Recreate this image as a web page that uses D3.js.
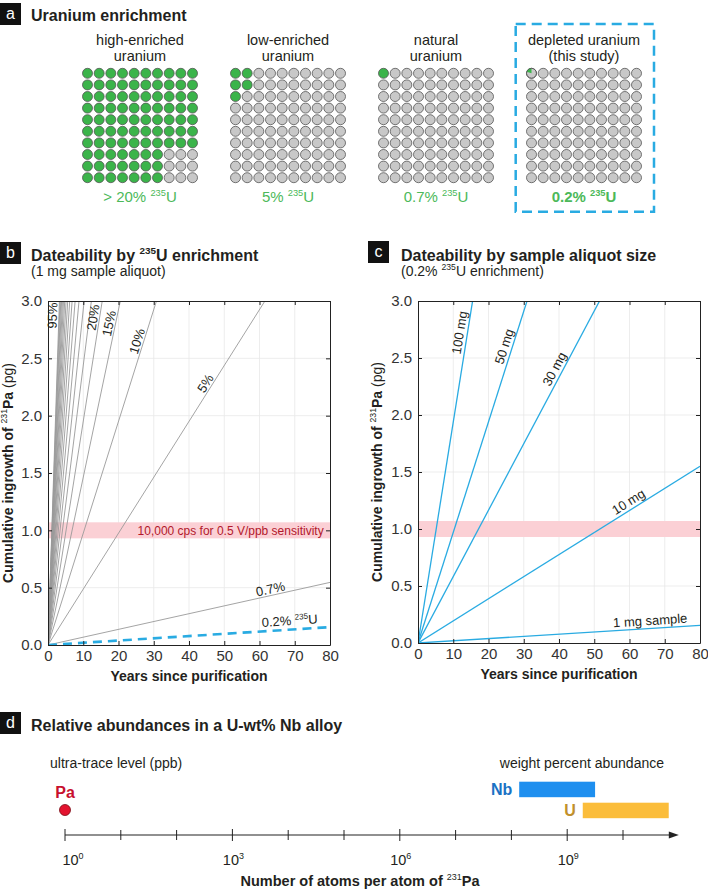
<!DOCTYPE html>
<html><head><meta charset="utf-8">
<script src="https://cdn.jsdelivr.net/npm/d3@7"></script>
<style>
body{margin:0;background:#fff}
svg{display:block;font-family:"Liberation Sans",Arial,Helvetica,sans-serif}
</style>
</head><body><svg id="fig" width="708" height="891"></svg>
<script>
// ---------- DATA ----------
// panel a
const enrichNames = [["high-enriched","uranium"],["low-enriched","uranium"],["natural","uranium"],["depleted uranium","(this study)"]];
const enrichValues = ["> 20%","5%","0.7%","0.2%"];
const greenRows = [[10,10,10,10,10,10,10,7,7,7],[2,2,1],[1],[0.2]];
// panel b (pg of 231Pa after 80 years, 1 mg aliquot)
const bPercent = [95,90,85,80,75,70,65,60,55,50,45,40,35,30,25,20,15,10,5,0.7];
const bAt80 = [74.1,70.2,66.3,62.4,58.5,54.6,50.7,46.8,42.9,39.0,35.1,31.2,27.3,23.4,19.5,15.6,11.7,7.8,3.9,0.546];
const bDepletedAt80 = 0.156;
const bLabelPct = [95,20,15,10,5,0.7];
const bLabelText = ["95%","20%","15%","10%","5%","0.7%"];
const bLabelYear = [3.1,14.6,19.1,27,46.2,63.5];
const bDepletedLabelYear = 68.7;
const xTicks = [0,10,20,30,40,50,60,70,80];
const yTicks = [0,0.5,1,1.5,2,2.5,3];
const band = [0.93,1.07];
const bandText = "10,000 cps for 0.5 V/ppb sensitivity";
// panel c (0.2% enrichment)
const cMass = ["100 mg","50 mg","30 mg","10 mg","1 mg sample"];
const cAt80 = [15.5,7.76,4.66,1.55,0.155];
const cLabelYear = [14,26.6,40.7,60.9,66];
// panel d
const dElements = ["Nb","U"];
const dLow = [1.38e8,1.9e9];
const dHigh = [3.16e9,6.6e10];
const dPa = 1;
const dTickExp = [0,1,2,3,4,5,6,7,8,9,10];
const dLabelExp = [0,3,6,9];

// ---------- HELPERS ----------
const svg = d3.select("#fig");
const FONT = '"Liberation Sans",Arial,Helvetica,sans-serif';
function rich(sel, parts, fs){
  let shifted=false;
  parts.forEach(p=>{
    const ts = sel.append("tspan").text(p.t);
    if(p.sup){ ts.attr("font-size",fs*0.62); if(!shifted){ts.attr("dy",-fs*0.4);shifted=true;} }
    else { if(shifted){ts.attr("dy",fs*0.4);shifted=false;} }
    if(p.w) ts.attr("font-weight",p.w);
  });
}
function tag(x,y,letter){
  svg.append("rect").attr("x",x).attr("y",y).attr("width",21).attr("height",22).attr("fill","#111");
  svg.append("text").attr("x",x+10.5).attr("y",y+16).attr("text-anchor","middle")
    .attr("fill","#fff").attr("font-size",16).text(letter);
}
const ink="#231f20";

// ---------- PANEL A ----------
tag(0,3,"a");
svg.append("text").attr("x",31).attr("y",20.5).attr("font-size",16).attr("font-weight","bold").attr("fill",ink).text("Uranium enrichment");
const gx = d3.scaleBand().domain(d3.range(4)).range([66,658]);
const cx = d3.scaleLinear().domain([0,9]).range([-52.5,52.5]);
const ry = d3.scaleLinear().domain([0,9]).range([73.3,177.7]);
const green="#3bb44a", grey="#c8c8c8", dotStroke="#555";
const arc = d3.arc().innerRadius(0).outerRadius(5);
enrichNames.forEach((nm,i)=>{
  const c = gx(i)+gx.bandwidth()/2;
  const g = svg.append("g");
  nm.forEach((line,k)=>{
    g.append("text").attr("x",c).attr("y",45+k*16.4).attr("text-anchor","middle")
      .attr("font-size",14.5).attr("fill",ink).text(line);
  });
  for(let r=0;r<10;r++){
    const gr = greenRows[i][r]||0;
    for(let col=0;col<10;col++){
      const x=c+cx(col), y=ry(r);
      const full = col < Math.floor(gr);
      const part = (col===Math.floor(gr)) ? gr-Math.floor(gr) : 0;
      g.append("circle").attr("cx",x).attr("cy",y).attr("r",5)
        .attr("fill",full?green:grey).attr("stroke",dotStroke).attr("stroke-width",0.8);
      if(part>0){
        g.append("path").attr("transform",`translate(${x},${y})`)
          .attr("d",arc({startAngle:-part*2*Math.PI,endAngle:0})).attr("fill",green);
        g.append("circle").attr("cx",x).attr("cy",y).attr("r",5).attr("fill","none")
          .attr("stroke",dotStroke).attr("stroke-width",0.8);
      }
    }
  }
  const t = g.append("text").attr("x",c).attr("y",201.5).attr("text-anchor","middle")
    .attr("font-size",15).attr("fill","#4cb95a").attr("font-weight",i===3?"bold":null);
  rich(t,[{t:enrichValues[i]+" "},{t:"235",sup:true},{t:"U"}],15);
});
svg.append("rect").attr("x",515.7).attr("y",24).attr("width",138.3).attr("height",187.7)
  .attr("fill","none").attr("stroke","#29abe2").attr("stroke-width",2.5).attr("stroke-dasharray","10,6");

// ---------- PANELS B, C ----------
function frame(x,y,id){
  const g = svg.append("g");
  const [x0,x1]=x.range(), [y0,y1]=y.range();
  g.selectAll(".gx").data(xTicks.slice(1,-1)).join("line")
    .attr("x1",d=>x(d)).attr("x2",d=>x(d)).attr("y1",y0).attr("y2",y1).attr("stroke","#e8e8e8").attr("stroke-width",0.8);
  g.selectAll(".gy").data(yTicks.slice(1,-1)).join("line")
    .attr("y1",d=>y(d)).attr("y2",d=>y(d)).attr("x1",x0).attr("x2",x1).attr("stroke","#e8e8e8").attr("stroke-width",0.8);
  g.append("rect").attr("x",x0).attr("width",x1-x0).attr("y",y(band[1])).attr("height",y(band[0])-y(band[1]))
    .attr("fill","#fbd0d5");
  svg.append("clipPath").attr("id",id).append("rect").attr("x",x0).attr("y",y1).attr("width",x1-x0).attr("height",y0-y1);
  return g;
}
function axes(x,y){
  const [x0,x1]=x.range(), [y0,y1]=y.range();
  const st = a=>a.attr("font-family",FONT).attr("font-size",15)
    .call(s=>s.selectAll("text").attr("fill","#333"))
    .call(s=>s.selectAll("line,path").attr("stroke","#222"));
  svg.append("g").attr("transform",`translate(0,${y0})`)
    .call(d3.axisBottom(x).tickValues(xTicks).tickSizeInner(-4).tickSizeOuter(0).tickPadding(5)).call(st);
  svg.append("g").attr("transform",`translate(0,${y1})`)
    .call(d3.axisTop(x).tickValues(xTicks).tickSizeInner(-4).tickSizeOuter(0).tickFormat("")).call(st);
  svg.append("g").attr("transform",`translate(${x0},0)`)
    .call(d3.axisLeft(y).tickValues(yTicks).tickFormat(d3.format(".1f")).tickSizeInner(-4).tickSizeOuter(0).tickPadding(6)).call(st);
  svg.append("g").attr("transform",`translate(${x1},0)`)
    .call(d3.axisRight(y).tickValues(yTicks).tickSizeInner(-4).tickSizeOuter(0).tickFormat("")).call(st);
  svg.append("text").attr("x",(x0+x1)/2).attr("y",y0+36).attr("text-anchor","middle")
    .attr("font-size",14).attr("font-weight","bold").attr("fill",ink).text("Years since purification");
}
function ylabel(xpos,y){
  const t = svg.append("text").attr("transform",`translate(${xpos},${(y.range()[0]+y.range()[1])/2}) rotate(-90)`)
    .attr("text-anchor","middle").attr("font-size",14).attr("fill",ink);
  rich(t,[{t:"Cumulative ingrowth of ",w:"bold"},{t:"231",sup:true},{t:"Pa",w:"bold"},{t:" (pg)"}],14);
}
function lineLabel(g,x,y,v80,t,off,parts,fs){
  const dx = x(80)-x(0), dy = y(v80)-y(0);
  const a = Math.atan2(dy,dx);
  const px = x(t)+Math.sin(a)*off, py = y(v80*t/80)-Math.cos(a)*off;
  const txt = g.append("text").attr("transform",`translate(${px},${py}) rotate(${a*180/Math.PI})`)
    .attr("text-anchor","middle").attr("dy","0.35em").attr("font-size",fs).attr("fill",ink);
  rich(txt,parts,fs);
}

// Panel B
const xB = d3.scaleLinear().domain([0,80]).range([48,330]);
const yB = d3.scaleLinear().domain([0,3]).range([645,301]);
tag(0,242,"b");
{ const t=svg.append("text").attr("x",31).attr("y",260.5).attr("font-size",16).attr("font-weight","bold").attr("fill",ink);
  rich(t,[{t:"Dateability by "},{t:"235",sup:true},{t:"U enrichment"}],16);
  svg.append("text").attr("x",31).attr("y",275.5).attr("font-size",14).attr("fill",ink).text("(1 mg sample aliquot)"); }
const gB = frame(xB,yB,"clipB");
gB.append("text").attr("x",xB(78.2)).attr("y",yB(1)).attr("dy","0.35em").attr("text-anchor","end")
  .attr("font-size",12).attr("fill","#b2182b").text(bandText);
const linesB = gB.append("g").attr("clip-path","url(#clipB)");
bAt80.forEach(v=>{
  linesB.append("line").attr("x1",xB(0)).attr("y1",yB(0)).attr("x2",xB(80)).attr("y2",yB(v))
    .attr("stroke","#9a9a9a").attr("stroke-width",0.9);
});
linesB.append("line").attr("x1",xB(0)).attr("y1",yB(0)).attr("x2",xB(80)).attr("y2",yB(bDepletedAt80))
  .attr("stroke","#29abe2").attr("stroke-width",2.6).attr("stroke-dasharray","9,6");
bLabelPct.forEach((p,i)=>{
  const v = bAt80[bPercent.indexOf(p)];
  lineLabel(gB,xB,yB,v,bLabelYear[i],6.5,[{t:bLabelText[i]}],13);
});
lineLabel(gB,xB,yB,bDepletedAt80,bDepletedLabelYear,9,[{t:"0.2% "},{t:"235",sup:true},{t:"U"}],13);
axes(xB,yB);
ylabel(13,yB);

// Panel C
const xC = d3.scaleLinear().domain([0,80]).range([418,700]);
const yC = d3.scaleLinear().domain([0,3]).range([643,301]);
tag(368,241,"c");
{ const t=svg.append("text").attr("x",401).attr("y",260.5).attr("font-size",16).attr("font-weight","bold").attr("fill",ink);
  t.text("Dateability by sample aliquot size");
  const s=svg.append("text").attr("x",401).attr("y",275.5).attr("font-size",14).attr("fill",ink);
  rich(s,[{t:"(0.2% "},{t:"235",sup:true},{t:"U enrichment)"}],14); }
const gC = frame(xC,yC,"clipC");
const linesC = gC.append("g").attr("clip-path","url(#clipC)");
cAt80.forEach(v=>{
  linesC.append("line").attr("x1",xC(0)).attr("y1",yC(0)).attr("x2",xC(80)).attr("y2",yC(v))
    .attr("stroke","#29abe2").attr("stroke-width",1.3);
});
cMass.forEach((m,i)=>lineLabel(gC,xC,yC,cAt80[i],cLabelYear[i],8,[{t:m}],13));
axes(xC,yC);
ylabel(382,yC);

// ---------- PANEL D ----------
tag(0,712,"d");
svg.append("text").attr("x",31).attr("y",730.5).attr("font-size",16).attr("font-weight","bold").attr("fill",ink)
  .text("Relative abundances in a U-wt% Nb alloy");
const xD = d3.scaleLog().domain([1,1e10]).range([65,623]);
const axY = 835;
svg.append("text").attr("x",50).attr("y",768).attr("font-size",14).attr("fill",ink).text("ultra-trace level (ppb)");
svg.append("text").attr("x",664).attr("y",768).attr("text-anchor","end").attr("font-size",14).attr("fill",ink).text("weight percent abundance");
svg.append("text").attr("x",xD(dPa)).attr("y",797.5).attr("text-anchor","middle").attr("font-size",16)
  .attr("font-weight","bold").attr("fill","#c8102e").text("Pa");
svg.append("circle").attr("cx",xD(dPa)).attr("cy",810).attr("r",5.5).attr("fill","#e3132f").attr("stroke","#7a0a14").attr("stroke-width",0.8);
const barY=[781.7,802.7], barFill=["#1e8fef","#fbbd3b"], txtFill=["#1a72c4","#c1902b"];
dElements.forEach((e,i)=>{
  svg.append("rect").attr("x",xD(dLow[i])).attr("width",xD(dHigh[i])-xD(dLow[i])).attr("y",barY[i]).attr("height",15.5).attr("fill",barFill[i]);
  svg.append("text").attr("x",xD(dLow[i])-7).attr("y",barY[i]+13).attr("text-anchor","end").attr("font-size",16)
    .attr("font-weight","bold").attr("fill",txtFill[i]).text(e);
});
svg.append("line").attr("x1",xD(1)).attr("x2",xD(1e11)-8).attr("y1",axY).attr("y2",axY).attr("stroke","#222").attr("stroke-width",1.2);
svg.append("path").attr("d",`M${xD(1e11)-10},${axY-3.5}L${xD(1e11)},${axY}L${xD(1e11)-10},${axY+3.5}Z`).attr("fill","#222");
dTickExp.forEach(e=>{
  const big = dLabelExp.includes(e);
  svg.append("line").attr("x1",xD(10**e)).attr("x2",xD(10**e)).attr("y1",axY-(big?6:5)).attr("y2",axY+(big?6:5))
    .attr("stroke","#222").attr("stroke-width",1);
});
dLabelExp.forEach(e=>{
  const t=svg.append("text").attr("x",xD(10**e)+(e===0?8:1)).attr("y",865).attr("text-anchor","middle").attr("font-size",14.5).attr("fill",ink);
  rich(t,[{t:"10"},{t:String(e),sup:true}],14.5);
});
{ const t=svg.append("text").attr("x",360).attr("y",886).attr("text-anchor","middle").attr("font-size",14.5).attr("fill",ink);
  rich(t,[{t:"Number of atoms per atom of ",w:"bold"},{t:"231",sup:true},{t:"Pa",w:"bold"}],14.5); }
</script></body></html>
